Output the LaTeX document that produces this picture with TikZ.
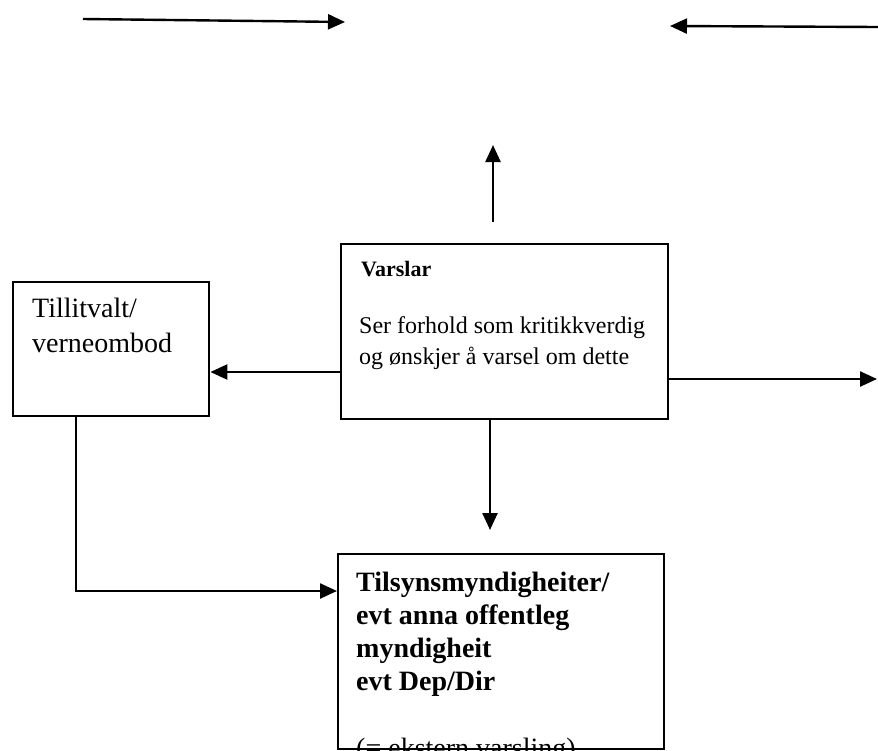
\documentclass[tikz,border=0pt]{standalone}
\usepackage{fontspec}
\setmainfont{Liberation Serif}
\usetikzlibrary{arrows.meta,positioning}
\tikzset{
  box/.style={draw, line width=2.4pt, rectangle, inner sep=0pt, anchor=north west},
  arr/.style={line width=2.4pt, -{Triangle[length=17pt,width=15pt]}},
  txt/.style={anchor=base west, inner sep=0pt, align=left}
}
\begin{document}
\begin{tikzpicture}[x=1pt,y=-1pt]
	\useasboundingbox (0,0) rectangle (878,750);
	% boxes
	\node[box, minimum width=327pt, minimum height=175pt] (varslar) at (340,243) {};
	\node[box, minimum width=196pt, minimum height=134pt] (tillit) at (12,281) {};
	\node[box, minimum width=326pt, minimum height=195pt] (tilsyn) at (337,553) {};

	% box texts (base = last line)
	\node[txt, font=\fontsize{22}{24}\selectfont\bfseries] (varslarhead) at (361,276) {Varslar};
	\node[txt, font=\fontsize{24}{31}\selectfont] (varslartext) at (359,364)
		{Ser forhold som kritikkverdig\\og ønskjer å varsel om dette};
	\node[txt, font=\fontsize{28}{35}\selectfont] (tillittext) at (32,352) {Tillitvalt/\\verneombod};
	\begin{scope}
		\clip (tilsyn.north west) rectangle (tilsyn.south east);
		\node[txt, font=\fontsize{28}{32.7}\selectfont\bfseries] (tilsyntext) at (356,690)
			{Tilsynsmyndigheiter/\\evt anna offentleg\\myndigheit\\evt Dep/Dir};
		\node[txt, font=\fontsize{28}{33}\selectfont] (tilsynnote) at (356,757) {(= ekstern varsling)};
	\end{scope}

	% free arrow ends
	\coordinate (topleftstart) at (83,19);
	\coordinate (topleftend) at (345,22);
	\coordinate (toprightstart) at (878,27);
	\coordinate (toprightend) at (670,26);
	\coordinate (upstart) at (493,222);
	\coordinate (upend) at (493,145);
	\coordinate (rightend) at (877,379);
	\coordinate (downend) at (490,530);
	\coordinate (bend) at (76,591);

	\draw[arr] (topleftstart) -- (topleftend);
	\draw[arr] (toprightstart) -- (toprightend);
	\draw[arr] (upstart) -- (upend);

	% from varslar
	\draw[arr] (varslar.west |- 0,372) -- (tillit.east |- 0,372);
	\draw[arr] (varslar.east |- rightend) -- (rightend);
	\draw[arr] (varslar.south -| downend) -- (downend);

	% tillitvalt to tilsyn
	\draw[arr] (tillit.south -| bend) -- (bend) -- (tilsyn.west |- bend);
\end{tikzpicture}
\end{document}
